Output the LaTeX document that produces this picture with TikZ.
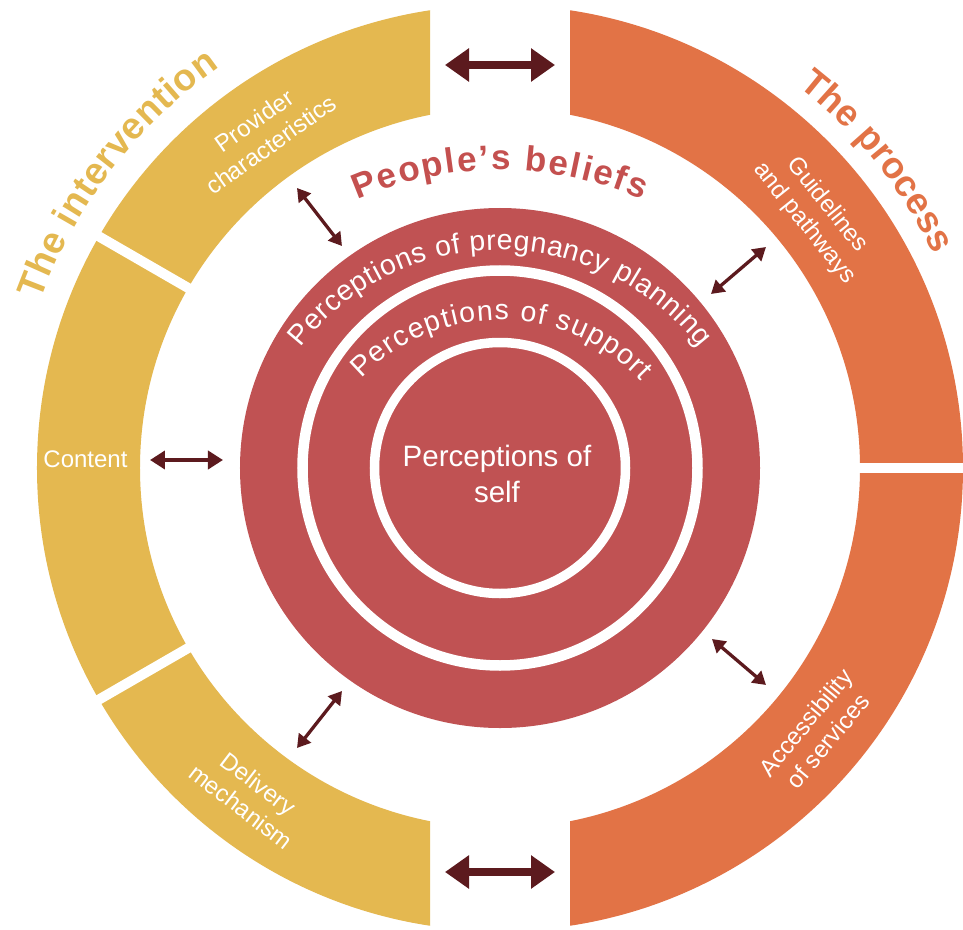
\documentclass[tikz,border=0pt]{standalone}
\usepackage{fontspec}
\setmainfont{Liberation Sans}
\usetikzlibrary{arrows.meta,decorations.text}
\definecolor{ringyel}{HTML}{E4B850}
\definecolor{ringora}{HTML}{E27346}
\definecolor{corered}{HTML}{C05253}
\definecolor{titlered}{HTML}{C4504F}
\definecolor{arrowc}{HTML}{5C1A1E}
\begin{document}
\begin{tikzpicture}[x=1pt,y=1pt,
  lbl/.style={text=white, align=center, font=\fontsize{24}{29}\selectfont, inner sep=0pt},
  selftxt/.style={text=white, font=\fontsize{29.5}{34}\selectfont, inner sep=0pt, anchor=base},
  bigarrow/.style={draw=arrowc, line width=8pt, {Triangle[length=24pt,width=32pt]}-{Triangle[length=24pt,width=32pt]}},
  midarrow/.style={draw=arrowc, line width=4.5pt, {Triangle[length=15pt,width=18pt]}-{Triangle[length=15pt,width=18pt]}},
  smallarrow/.style={draw=arrowc, line width=3.3pt, {Triangle[length=13pt,width=15pt]}-{Triangle[length=13pt,width=15pt]}},
  gap/.style={draw=white, line width=10pt}]
\fill[white] (-500,-461) rectangle (463,468);
\useasboundingbox (-500,-461) rectangle (463,468);

% outer ring: intervention (left)
\begin{scope}
  \clip (-600,-600) rectangle (-70,600);
  \fill[ringyel, even odd rule] (0,0) circle (463) (0,0) circle (360);
\end{scope}
\draw[gap] (150:350) -- (150:475);
\draw[gap] (210:350) -- (210:475);

% outer ring: process (right)
\begin{scope}
  \clip (70,-600) rectangle (600,600);
  \fill[ringora, even odd rule] (0,0) circle (463) (0,0) circle (360);
\end{scope}
\draw[gap] (0:350) -- (0:475);

% core circles
\fill[corered] (0,0) circle (260);
\draw[white, line width=10.5pt] (0,0) circle (197.5);
\draw[white, line width=9.5pt] (0,0) circle (125.5);

% curved titles
\path[decorate, decoration={text along path, text align={fit to path},
  text={|\bfseries\fontsize{37.5}{42}\selectfont\color{ringyel}|The intervention}}]
  (160:489) arc[start angle=160, end angle=125, radius=489];
\path[decorate, decoration={text along path, text align={fit to path},
  text={|\bfseries\fontsize{37}{42}\selectfont\color{ringora}|The process}}]
  (52:484) arc[start angle=52, end angle=26.3, radius=484];
\path[decorate, decoration={text along path, text align={fit to path},
  text={|\bfseries\fontsize{35}{40}\selectfont\color{titlered}|People’s beliefs}}]
  ([shift={(0,-60)}]113.5:358) arc[start angle=113.5, end angle=66.5, radius=358];

% curved labels in the core
\path[decorate, decoration={text along path, text align={fit to path},
  text={|\fontsize{28.5}{32}\selectfont\color{white}|Perceptions of pregnancy planning}}]
  ([shift={(0,-35)}]142:253) arc[start angle=142, end angle=38, radius=253];
\path[decorate, decoration={text along path, text align={fit to path},
  text={|\fontsize{28.5}{32}\selectfont\color{white}|Perceptions of support}}]
  ([shift={(0,-45)}]136:193) arc[start angle=136, end angle=43, radius=193];

\node[selftxt] (selfA) at (-3,2) {Perceptions of};
\node[selftxt] (selfB) at (-3,-34) {self};

% ring labels
\node[lbl, rotate=35.3] (prov) at (125.3:411) {Provider\\characteristics};
\node[lbl, rotate=-51.2] (guid) at (38.8:405) {Guidelines\\and pathways};
\node[lbl, rotate=50.2] (acc) at (-39.8:412) {Accessibility\\of services};
\node[lbl, rotate=-37.4] (deliv) at (-127.4:412) {Delivery\\mechanism};
\node[lbl] (cont) at (-414.5,9) {Content};

% arrow end points
\coordinate (topL) at (-55,403);
\coordinate (topR) at (55,403);
\coordinate (botL) at (-55,-404);
\coordinate (botR) at (55,-404);
\coordinate (conO) at (-350,8);
\coordinate (conI) at (-277,8);
\coordinate (prvO) at (-203,280);
\coordinate (prvI) at (-158,222);
\coordinate (gdlO) at (266,221);
\coordinate (gdlI) at (211,174);
\coordinate (dlvO) at (-203,-280);
\coordinate (dlvI) at (-158,-223);
\coordinate (accO) at (266,-217);
\coordinate (accI) at (212,-171);

\draw[bigarrow] (topL) -- (topR);
\draw[bigarrow] (botL) -- (botR);
\draw[midarrow] (conO) -- (conI);
\draw[smallarrow] (prvO) -- (prvI);
\draw[smallarrow] (gdlO) -- (gdlI);
\draw[smallarrow] (dlvO) -- (dlvI);
\draw[smallarrow] (accO) -- (accI);
\end{tikzpicture}
\end{document}
